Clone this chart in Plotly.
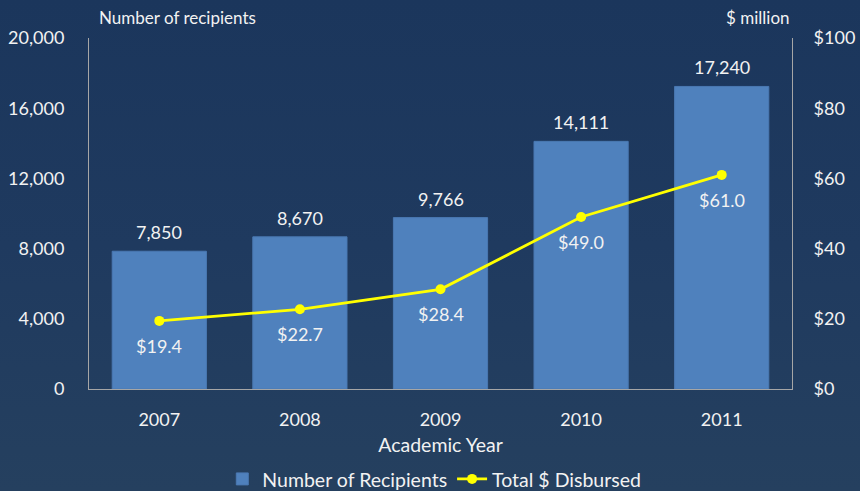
import plotly.graph_objects as go

years = ["2007", "2008", "2009", "2010", "2011"]
recipients = [7850, 8670, 9766, 14111, 17240]
disbursed = [19.4, 22.7, 28.4, 49.0, 61.0]
left_ticks = [0, 4000, 8000, 12000, 16000, 20000]
right_ticks = [0, 20, 40, 60, 80, 100]

FONT = "Lato"
WHITE = "#f2f2f2"
FS = 18
FT = 19.5

fig = go.Figure()
fig.add_trace(go.Bar(
    x=years, y=recipients, name="Number of Recipients",
    marker=dict(color="#4f81bd", line=dict(color="#4a79b2", width=1)),
    width=0.67,
))
fig.add_trace(go.Scatter(
    x=years, y=disbursed, name="Total $ Disbursed", yaxis="y2",
    mode="lines+markers",
    line=dict(color="#ffff00", width=2.8),
    marker=dict(color="#ffff00", size=10),
))

annotations = []
for i, v in enumerate(recipients):
    annotations.append(dict(x=i, y=v, xref="x", yref="y", text=f"{v:,}",
                            showarrow=False, yanchor="middle", yshift=19,
                            font=dict(size=FS, color=WHITE)))
for i, v in enumerate(disbursed):
    annotations.append(dict(x=i, y=v, xref="x", yref="y2", text=f"${v:.1f}",
                            showarrow=False, yanchor="middle", yshift=-25,
                            font=dict(size=FS, color=WHITE)))
annotations += [
    dict(text="Number of recipients", xref="paper", yref="paper", x=0.012, y=1.0,
         xanchor="left", yanchor="middle", yshift=21, showarrow=False,
         font=dict(size=17, color=WHITE)),
    dict(text="$ million", xref="paper", yref="paper", x=1.0, y=1.0,
         xanchor="right", yanchor="middle", yshift=21, showarrow=False,
         font=dict(size=17, color=WHITE)),
]

axis_line = "#a6a6a6"
fig.update_layout(
    width=860, height=491,
    paper_bgcolor="rgba(0,0,0,0)", plot_bgcolor="rgba(0,0,0,0)",
    margin=dict(l=89, r=68, t=38, b=102, autoexpand=False),
    font=dict(family=FONT, color=WHITE, size=FS),
    xaxis=dict(type="category", range=[-0.5, 4.5], showgrid=False, showline=True,
               linecolor=axis_line, linewidth=1,
               tickfont=dict(size=FS), ticks="", ticklabelstandoff=14, automargin=False,
               title=dict(text="Academic Year", font=dict(size=FT), standoff=9)),
    yaxis=dict(range=[0, 20000], tickvals=left_ticks, tickformat=",", automargin=False,
               showgrid=False, showline=True, linecolor=axis_line, linewidth=1,
               zeroline=False, ticks="", ticklabelstandoff=20, tickfont=dict(size=FS)),
    yaxis2=dict(range=[0, 100], tickvals=right_ticks, automargin=False,
                ticktext=[f"${v}" for v in right_ticks],
                overlaying="y", side="right", showgrid=False, showline=True,
                linecolor=axis_line, linewidth=1, zeroline=False, ticks="",
                ticklabelstandoff=17, tickfont=dict(size=FS)),
    legend=dict(orientation="h", x=0.505, xref="container", xanchor="center",
                y=0.024, yref="container", yanchor="middle",
                font=dict(size=FT), bgcolor="rgba(0,0,0,0)",
                traceorder="normal"),
    showlegend=True,
    annotations=annotations,
)

fig.write_html(
    "out.html", config={"displayModeBar": False},
    post_script=("document.documentElement.style.height='100%';"
                 "document.body.style.margin='0';document.body.style.height='100%';"
                 "document.body.style.background='linear-gradient(180deg,#1b365c 0%,#1f3a5f 50%,#25405f 100%)';"),
)
